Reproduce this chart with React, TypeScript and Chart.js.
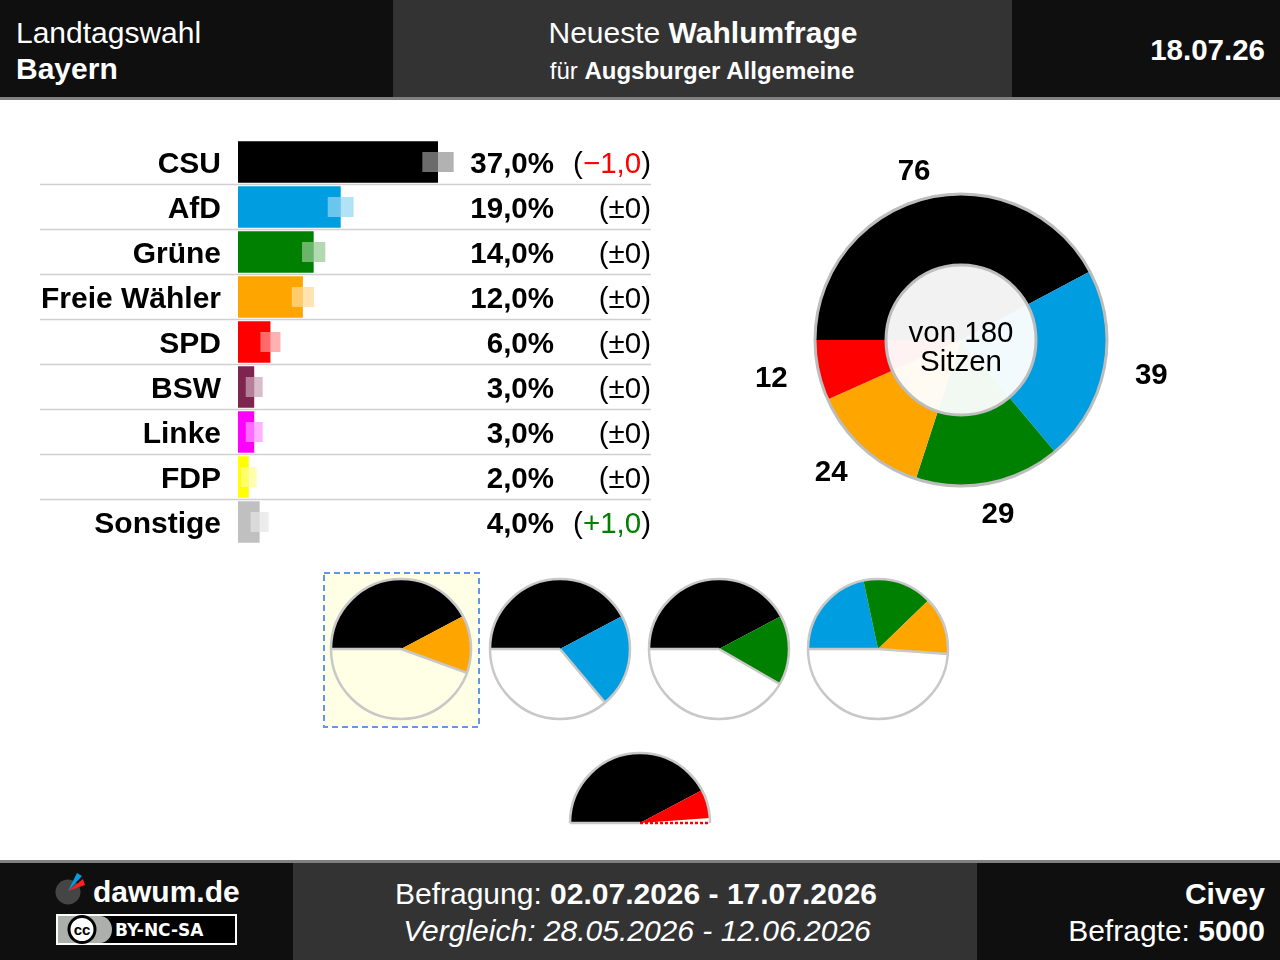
import React, { useEffect, useRef } from "react";
import { Chart, registerables } from "chart.js";
Chart.register(...registerables);

const FONT = '"Liberation Sans", Arial, Helvetica, sans-serif';

// ---- poll data ----
const parties = ["CSU", "AfD", "Grüne", "Freie Wähler", "SPD", "BSW", "Linke", "FDP", "Sonstige"];
const partyColors = ["#000000", "#009ee0", "#008000", "#ffa500", "#ff0000", "#7d254f", "#ff00ff", "#ffff00", "#c0c0c0"];
const values = [37, 19, 14, 12, 6, 3, 3, 2, 4];
const changes = [-1, 0, 0, 0, 0, 0, 0, 0, 1];
const margins = [2.9, 2.4, 2.15, 2.05, 1.85, 1.57, 1.57, 1.48, 1.67];

// ---- seats ----
const seatParties = ["CSU", "AfD", "Grüne", "Freie Wähler", "SPD"];
const seats = [76, 39, 29, 24, 12];
const totalSeats = 180;

// ---- coalitions ----
const coalitions = [
  ["CSU", "Freie Wähler"],
  ["CSU", "AfD"],
  ["CSU", "Grüne"],
  ["AfD", "Grüne", "Freie Wähler"],
  ["CSU", "SPD"],
];
const coalitionHalf = [false, false, false, false, true];

const hexToRgba = (hex: string, a: number) => {
  const n = parseInt(hex.slice(1), 16);
  return `rgba(${(n >> 16) & 255},${(n >> 8) & 255},${n & 255},${a})`;
};
const colorOf = (p: string) => partyColors[parties.indexOf(p)];
const seatsOf = (p: string) => seats[seatParties.indexOf(p)];
const fmtPct = (v: number) => v.toFixed(1).replace(".", ",") + "%";
const fmtChange = (v: number) =>
  v === 0 ? "±0" : (v < 0 ? "\u2212" : "+") + Math.abs(v).toFixed(1).replace(".", ",");

function ChartCanvas({ makeConfig, left, top, width, height }: any) {
  const ref = useRef<HTMLCanvasElement>(null);
  useEffect(() => {
    const chart = new Chart(ref.current as HTMLCanvasElement, makeConfig());
    return () => chart.destroy();
  }, []);
  return (
    <canvas
      ref={ref}
      width={width}
      height={height}
      style={{ position: "absolute", left, top, width, height }}
    />
  );
}

// ---------- bar chart ----------
const barLabelPlugin = {
  id: "barLabels",
  afterDatasetsDraw(chart: any) {
    const { ctx, chartArea } = chart;
    const meta = chart.getDatasetMeta(2);
    const L = chartArea.left;
    ctx.save();
    ctx.strokeStyle = "#d0d0d0";
    ctx.lineWidth = 1.3;
    for (let i = 0; i < meta.data.length - 1; i++) {
      const y = (meta.data[i].y + meta.data[i + 1].y) / 2;
      ctx.beginPath();
      ctx.moveTo(10, y);
      ctx.lineTo(621, y);
      ctx.stroke();
    }
    ctx.textBaseline = "alphabetic";
    for (let i = 0; i < meta.data.length; i++) {
      const y = meta.data[i].y + 10.5;
      ctx.fillStyle = "#000";
      ctx.textAlign = "right";
      ctx.font = `bold 30px ${FONT}`;
      ctx.fillText(parties[i], L - 17, y);
      ctx.font = `bold 29.5px ${FONT}`;
      ctx.fillText(fmtPct(values[i]), L + 316, y);
      ctx.font = `29.5px ${FONT}`;
      const num = fmtChange(changes[i]);
      const wO = ctx.measureText("(").width;
      const wN = ctx.measureText(num).width;
      const wC = ctx.measureText(")").width;
      let x = L + 413 - (wO + wN + wC);
      ctx.textAlign = "left";
      ctx.fillText("(", x, y);
      x += wO;
      ctx.fillStyle = changes[i] < 0 ? "#ff0000" : changes[i] > 0 ? "#008000" : "#000";
      ctx.fillText(num, x, y);
      x += wN;
      ctx.fillStyle = "#000";
      ctx.fillText(")", x, y);
    }
    ctx.restore();
  },
};

const makeBarConfig = () => ({
  type: "bar",
  data: {
    labels: parties,
    datasets: [
      {
        data: values.map((v, i) => [v - margins[i], v]),
        backgroundColor: "rgba(255,255,255,0.42)",
        barPercentage: 0.444,
        categoryPercentage: 1,
        grouped: false,
        order: 0,
      },
      {
        data: values.map((v, i) => [v, v + margins[i]]),
        backgroundColor: partyColors.map((c) => hexToRgba(c, 0.3)),
        barPercentage: 0.444,
        categoryPercentage: 1,
        grouped: false,
        order: 1,
      },
      {
        data: values,
        backgroundColor: partyColors,
        barPercentage: 0.927,
        categoryPercentage: 1,
        grouped: false,
        order: 2,
      },
    ],
  },
  options: {
    indexAxis: "y",
    responsive: false,
    animation: false,
    layout: { padding: { left: 208, right: 16.6, top: 9.5, bottom: 10.5 } },
    scales: {
      x: { type: "linear", min: 0, max: 75, display: false },
      y: { type: "category", display: false },
    },
    plugins: { legend: { display: false }, tooltip: { enabled: false } },
  },
  plugins: [barLabelPlugin],
});

// ---------- seat donut ----------
const donutPlugin = {
  id: "donutDeco",
  afterDatasetsDraw(chart: any) {
    const { ctx } = chart;
    const meta = chart.getDatasetMeta(0);
    const a0 = meta.data[0];
    const cx = a0.x, cy = a0.y, R = a0.outerRadius;
    ctx.save();
    ctx.strokeStyle = "#bdbdbd";
    ctx.lineWidth = 3;
    ctx.beginPath();
    ctx.arc(cx, cy, R, 0, Math.PI * 2);
    ctx.stroke();
    ctx.beginPath();
    ctx.arc(cx, cy, 75, 0, Math.PI * 2);
    ctx.fillStyle = "rgba(255,255,255,0.95)";
    ctx.fill();
    ctx.stroke();
    ctx.fillStyle = "#000";
    ctx.textAlign = "center";
    ctx.textBaseline = "alphabetic";
    ctx.font = `29.5px ${FONT}`;
    ctx.fillText(`von ${totalSeats}`, cx, cy + 1.5);
    ctx.fillText("Sitzen", cx, cy + 31);
    ctx.font = `bold 29.5px ${FONT}`;
    meta.data.forEach((arc: any, i: number) => {
      const mid = (arc.startAngle + arc.endAngle) / 2;
      const txt = String(seats[i]);
      const hw = ctx.measureText(txt).width / 2;
      const c = Math.cos(mid), s = Math.sin(mid);
      const x = cx + c * (175 + hw * 1.15);
      const y = cy + s * 176;
      ctx.fillText(txt, x, y + 10.5);
    });
    ctx.restore();
  },
};

const makeDonutConfig = () => ({
  type: "doughnut",
  data: {
    labels: seatParties,
    datasets: [
      {
        data: seats,
        backgroundColor: seatParties.map(colorOf),
        borderWidth: 0,
      },
    ],
  },
  options: {
    responsive: false,
    animation: false,
    cutout: 0,
    radius: 146,
    rotation: -90,
    circumference: 360,
    plugins: { legend: { display: false }, tooltip: { enabled: false } },
  },
  plugins: [donutPlugin],
});

// ---------- coalition pies ----------
const makePieConfig = (members: string[], half: boolean) => {
  const used = members.map(seatsOf);
  const total = half ? totalSeats / 2 : totalSeats;
  const rest = Math.max(total - used.reduce((a, b) => a + b, 0), 0);
  const outline = {
    id: "pieOutline",
    afterDatasetsDraw(chart: any) {
      const { ctx } = chart;
      const meta = chart.getDatasetMeta(0);
      const a0 = meta.data[0];
      const cx = a0.x, cy = a0.y, R = a0.outerRadius;
      ctx.save();
      ctx.strokeStyle = "#c8c8c8";
      ctx.lineWidth = 2.5;
      ctx.beginPath();
      if (half) ctx.arc(cx, cy, R, Math.PI, Math.PI * 2);
      else ctx.arc(cx, cy, R, 0, Math.PI * 2);
      ctx.stroke();
      ctx.beginPath();
      ctx.moveTo(cx - R, cy);
      ctx.lineTo(cx, cy);
      ctx.stroke();
      if (half) {
        ctx.strokeStyle = "#ff0000";
        ctx.setLineDash([3, 2]);
        ctx.beginPath();
        ctx.moveTo(cx, cy);
        ctx.lineTo(cx + R, cy);
        ctx.stroke();
      } else {
        const end = meta.data[members.length - 1].endAngle;
        ctx.beginPath();
        ctx.moveTo(cx, cy);
        ctx.lineTo(cx + Math.cos(end) * R, cy + Math.sin(end) * R);
        ctx.stroke();
      }
      ctx.restore();
    },
  };
  return {
    type: "pie",
    data: {
      labels: [...members, "Rest"],
      datasets: [
        {
          data: [...used, rest],
          backgroundColor: [...members.map(colorOf), "rgba(0,0,0,0)"],
          borderWidth: 0,
        },
      ],
    },
    options: {
      responsive: false,
      animation: false,
      radius: 70,
      rotation: -90,
      circumference: half ? 180 : 360,
      layout: { padding: 5 },
      plugins: { legend: { display: false }, tooltip: { enabled: false } },
    },
    plugins: [outline],
  };
};

const pieCentersX = [401, 560, 719, 878, 640];
const pieCentersY = [649, 649, 649, 649, 823];

export default function App() {
  const white = "#ffffff";
  return (
    <div
      style={{
        position: "absolute",
        left: 0,
        top: 0,
        width: 1280,
        height: 960,
        background: "#fff",
        overflow: "hidden",
        fontFamily: FONT,
      }}
    >
      <svg width={1280} height={960} style={{ position: "absolute", left: 0, top: 0 }} fontFamily={FONT}>
        {/* header */}
        <rect x={0} y={0} width={393} height={97} fill="#0f0f0f" />
        <rect x={393} y={0} width={619} height={97} fill="#333333" />
        <rect x={1012} y={0} width={268} height={97} fill="#0f0f0f" />
        <rect x={0} y={97} width={1280} height={3} fill="#808080" />
        <text x={16} y={42.5} fontSize={30} fill={white}>Landtagswahl</text>
        <text x={16} y={79} fontSize={30} fontWeight="bold" fill={white}>Bayern</text>
        <text x={703} y={42.5} fontSize={30} fill={white} textAnchor="middle">
          Neueste <tspan fontWeight="bold">Wahlumfrage</tspan>
        </text>
        <text x={702} y={79} fontSize={24} fill={white} textAnchor="middle">
          für <tspan fontWeight="bold">Augsburger Allgemeine</tspan>
        </text>
        <text x={1265} y={59.5} fontSize={29.5} fontWeight="bold" fill={white} textAnchor="end">18.07.26</text>

        {/* coalition highlight box */}
        <rect x={324} y={573} width={155} height={154} fill="#ffffe6" stroke="#6495ed" strokeWidth={2} strokeDasharray="6 4" />

        {/* footer */}
        <rect x={0} y={860} width={1280} height={3} fill="#808080" />
        <rect x={0} y={863} width={293} height={97} fill="#0f0f0f" />
        <rect x={293} y={863} width={684} height={97} fill="#333333" />
        <rect x={977} y={863} width={303} height={97} fill="#0f0f0f" />

        {/* logo */}
        <circle cx={68} cy={892} r={12.5} fill="#454545" />
        <polygon points="68,891 83,879 85,885" fill="#ff2020" />
        <polygon points="68,891 77,873 82,876" fill="#009ee0" />
        <text x={93} y={902} fontSize={30} fontWeight="bold" fill={white}>dawum.de</text>

        {/* CC badge */}
        <rect x={57} y={915} width={179} height={29} fill="#000" stroke={white} strokeWidth={2} />
        <path d="M58,916 H100 A12,13.5 0 0 1 100,943 H58 Z" fill="#abb1aa" />
        <circle cx={82} cy={929.5} r={13} fill={white} stroke="#000" strokeWidth={3} />
        <text x={82} y={935} fontSize={15} fontWeight="bold" fill="#000" textAnchor="middle">cc</text>
        <text x={115} y={936} fontSize={17} fontWeight="bold" fill={white} fontFamily='"DejaVu Sans", sans-serif'>BY-NC-SA</text>

        <text x={636} y={903.5} fontSize={30} fill={white} textAnchor="middle">
          Befragung: <tspan fontWeight="bold">02.07.2026 - 17.07.2026</tspan>
        </text>
        <text x={637} y={940.5} fontSize={30} fill={white} textAnchor="middle" fontStyle="italic">
          Vergleich: 28.05.2026 - 12.06.2026
        </text>
        <text x={1265} y={903.5} fontSize={30} fontWeight="bold" fill={white} textAnchor="end">Civey</text>
        <text x={1265} y={940.5} fontSize={30} fill={white} textAnchor="end">
          Befragte: <tspan fontWeight="bold">5000</tspan>
        </text>
      </svg>

      <ChartCanvas makeConfig={makeBarConfig} left={30} top={130} width={630} height={425} />
      <ChartCanvas makeConfig={makeDonutConfig} left={741} top={120} width={440} height={440} />
      {coalitions.map((c, i) => (
        <ChartCanvas
          key={i}
          makeConfig={() => makePieConfig(c, coalitionHalf[i])}
          left={pieCentersX[i] - 75}
          top={pieCentersY[i] - 75}
          width={150}
          height={coalitionHalf[i] ? 80 : 150}
        />
      ))}
    </div>
  );
}
